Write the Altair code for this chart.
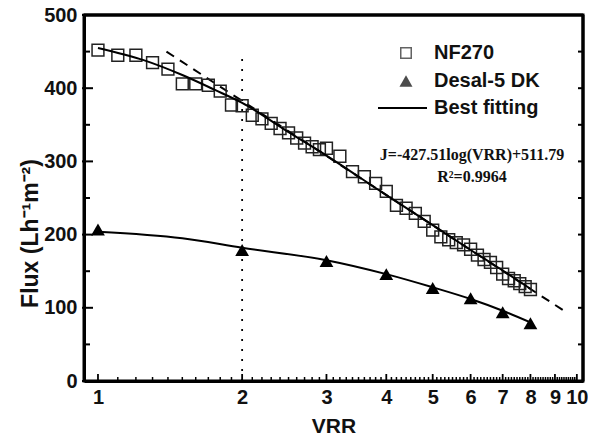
import altair as alt
import pandas as pd

# NF270 measured flux (squares)
nf_vrr = [1.0, 1.1, 1.2, 1.3, 1.4, 1.5, 1.6, 1.7, 1.8, 1.9, 2.0,
          2.1, 2.2, 2.3, 2.4, 2.5, 2.6, 2.7, 2.8, 2.9, 3.0,
          3.2, 3.4, 3.6, 3.8, 4.0, 4.2, 4.4, 4.6, 4.8, 5.0,
          5.2, 5.4, 5.6, 5.8, 6.0, 6.2, 6.4, 6.6, 6.8, 7.0,
          7.2, 7.4, 7.6, 7.8, 8.0]
nf_flux = [452, 445, 445, 435, 426, 406, 406, 404, 396, 377, 376,
           363, 358, 352, 345, 339, 332, 325, 320, 316, 318,
           307, 286, 279, 270, 259, 240, 236, 229, 218, 206,
           197, 193, 189, 186, 180, 172, 166, 162, 155, 146,
           140, 137, 133, 129, 125]

# Desal-5 DK measured flux (triangles)
desal_vrr = [1, 2, 3, 4, 5, 6, 7, 8]
desal_flux = [207, 179, 164, 146, 127, 113, 94, 79]

# Best-fitting curves
nf_fit_vrr = [1, 1.25, 1.5, 1.75, 2, 2.5, 3, 4, 5, 6, 7, 8]
nf_fit_flux = [455, 438, 418, 398, 380, 340, 308, 254, 213, 179, 151, 126]
desal_fit_vrr = [1, 1.5, 2, 3, 4, 5, 6, 7, 8]
desal_fit_flux = [204, 195, 182, 165, 146, 128, 112, 96, 80]

# Dashed log-law extrapolation
extrap_vrr = [1.39, 9.6]
extrap_flux = [450, 92]

# Dotted guide at VRR = 2
guide_vrr = [2]
guide_bottom = [0]
guide_top = [445]

# Axis ranges and tick values
x_range = [0.935, 10.3]
y_range = [0, 500]
x_major = [1, 2, 3, 4, 5, 6, 7, 8, 9, 10]
x_minor = [round(i / 10, 1) for i in range(11, 100) if i % 10 != 0]
y_major = [0, 100, 200, 300, 400, 500]
y_minor = [50, 150, 250, 350, 450]
y_all = [0, 50, 100, 150, 200, 250, 300, 350, 400, 450, 500]

# Legend and annotation texts
legend_labels = ["NF270", "Desal-5 DK", "Best fitting"]
equation = "J=-427.51log(VRR)+511.79"
r2_text = "R²=0.9964"

W, H = 499, 366
FONT = "Liberation Sans"
SERIF = "Liberation Serif"

xs = alt.Scale(type="log", domain=x_range, nice=False)
ys = alt.Scale(domain=y_range, nice=False)

x_axis = alt.Axis(values=x_major, format="~g", ticks=False, grid=False,
                  domain=True, domainColor="black", domainWidth=3,
                  labelFont=FONT, labelFontSize=20, labelFontWeight="bold",
                  labelColor="#111", labelPadding=6, labelOverlap=False, labelFlush=False,
                  title="VRR", titleFont=FONT, titleFontSize=21, titleFontWeight="bold",
                  titleColor="#111", titlePadding=8)
y_axis = alt.Axis(values=y_major, ticks=False, grid=False,
                  domain=True, domainColor="black", domainWidth=3,
                  labelFont=FONT, labelFontSize=20, labelFontWeight="bold",
                  labelColor="#111", labelPadding=7, labelOverlap=False,
                  title="Flux (Lh⁻¹m⁻²)", titleFont=FONT, titleFontSize=23,
                  titleFontWeight="bold", titleColor="#111",
                  titleX=-54, titleY=218, titleAlign="center", titleBaseline="middle",
                  titleAngle=270)


def X(field="VRR"):
    return alt.X(f"{field}:Q", scale=xs, axis=x_axis)


def Y(field="Flux"):
    return alt.Y(f"{field}:Q", scale=ys, axis=y_axis)


nf_df = pd.DataFrame({"VRR": nf_vrr, "Flux": nf_flux})
desal_df = pd.DataFrame({"VRR": desal_vrr, "Flux": desal_flux})
nf_fit_df = pd.DataFrame({"VRR": nf_fit_vrr, "Flux": nf_fit_flux})
desal_fit_df = pd.DataFrame({"VRR": desal_fit_vrr, "Flux": desal_fit_flux})
extrap_df = pd.DataFrame({"VRR": extrap_vrr, "Flux": extrap_flux})
guide_df = pd.DataFrame({"VRR": guide_vrr, "Flux": guide_bottom, "Flux2": guide_top})
one = pd.DataFrame({"k": [0]})

guide = alt.Chart(guide_df).mark_rule(color="black", strokeWidth=1.8, strokeDash=[2, 8]).encode(
    x=X(), y=Y(), y2="Flux2:Q")
extrap = alt.Chart(extrap_df).mark_line(color="black", strokeWidth=2, strokeDash=[9, 7]).encode(
    x=X(), y=Y())
nf_pts = alt.Chart(nf_df).mark_point(shape="square", size=140, filled=False,
                                     color="#222", strokeWidth=1.5, opacity=1).encode(x=X(), y=Y())
desal_pts = alt.Chart(desal_df).mark_point(shape="triangle-up", size=190, filled=True,
                                           color="black", opacity=1).encode(x=X(), y=Y())
nf_fit = alt.Chart(nf_fit_df).mark_line(color="black", strokeWidth=2, interpolate="monotone").encode(
    x=X(), y=Y())
desal_fit = alt.Chart(desal_fit_df).mark_line(color="black", strokeWidth=2, interpolate="monotone").encode(
    x=X(), y=Y())

# tick marks drawn inward
xmaj = alt.Chart(pd.DataFrame({"VRR": x_major})).mark_rule(color="black", strokeWidth=1.8).encode(
    x=X(), y=alt.value(H), y2=alt.value(H - 7))
xmin = alt.Chart(pd.DataFrame({"VRR": x_minor})).mark_rule(color="black", strokeWidth=1.5).encode(
    x=X(), y=alt.value(H), y2=alt.value(H - 4))
ymaj = alt.Chart(pd.DataFrame({"Flux": y_major})).mark_rule(color="black", strokeWidth=2).encode(
    y=Y(), x=alt.value(-2), x2=alt.value(9))
ymin = alt.Chart(pd.DataFrame({"Flux": y_minor})).mark_rule(color="black", strokeWidth=2).encode(
    y=Y(), x=alt.value(0), x2=alt.value(6))
yright = alt.Chart(pd.DataFrame({"Flux": y_all})).mark_rule(color="black", strokeWidth=2).encode(
    y=Y(), x=alt.value(W), x2=alt.value(W - 5))

# top and right frame lines, drawn from the axis ranges
frame_top = alt.Chart(pd.DataFrame({"VRR": [x_range[0]], "VRR2": [x_range[1]],
                                    "Flux": [y_range[1]]})).mark_rule(
    color="black", strokeWidth=3).encode(x=X(), x2="VRR2:Q", y=Y())
frame_right = alt.Chart(pd.DataFrame({"VRR": [x_range[1]], "Flux": [y_range[0]],
                                      "Flux2": [y_range[1]]})).mark_rule(
    color="black", strokeWidth=3).encode(x=X(), y=Y(), y2="Flux2:Q")

# legend (decoration)
leg_sq = alt.Chart(one).mark_point(shape="square", size=110, filled=False,
                                   color="#222", strokeWidth=1.5).encode(
    x=alt.value(322), y=alt.value(38))
leg_tri = alt.Chart(one).mark_point(shape="triangle-up", size=170, filled=True,
                                    color="black").encode(
    x=alt.value(322), y=alt.value(66))
leg_line = alt.Chart(one).mark_rule(color="black", strokeWidth=2).encode(
    x=alt.value(294), x2=alt.value(343), y=alt.value(93))


def label(txt, px, py, font, size, align):
    return alt.Chart(one).mark_text(
        text=txt, align=align, baseline="middle", font=font, fontSize=size,
        fontWeight="bold", color="#111").encode(x=alt.value(px), y=alt.value(py))


legend_texts = [label(t, 350, py, FONT, 20, "left") for t, py in zip(legend_labels, [38, 66, 93])]
ann_texts = [label(equation, 388, 140, SERIF, 16, "center"),
             label(r2_text, 388, 162, SERIF, 16, "center")]

chart = alt.layer(
    guide, extrap, nf_pts, desal_pts, nf_fit, desal_fit,
    xmaj, xmin, ymaj, ymin, yright, frame_top, frame_right,
    leg_sq, leg_tri, leg_line, *legend_texts, *ann_texts
).properties(
    width=W, height=H, autosize="none", background="white",
    padding={"left": 76, "top": 7, "right": 5, "bottom": 60}
).configure_view(stroke="black", strokeWidth=3)

chart.save("out.html", embed_options={"renderer": "svg", "actions": False})
